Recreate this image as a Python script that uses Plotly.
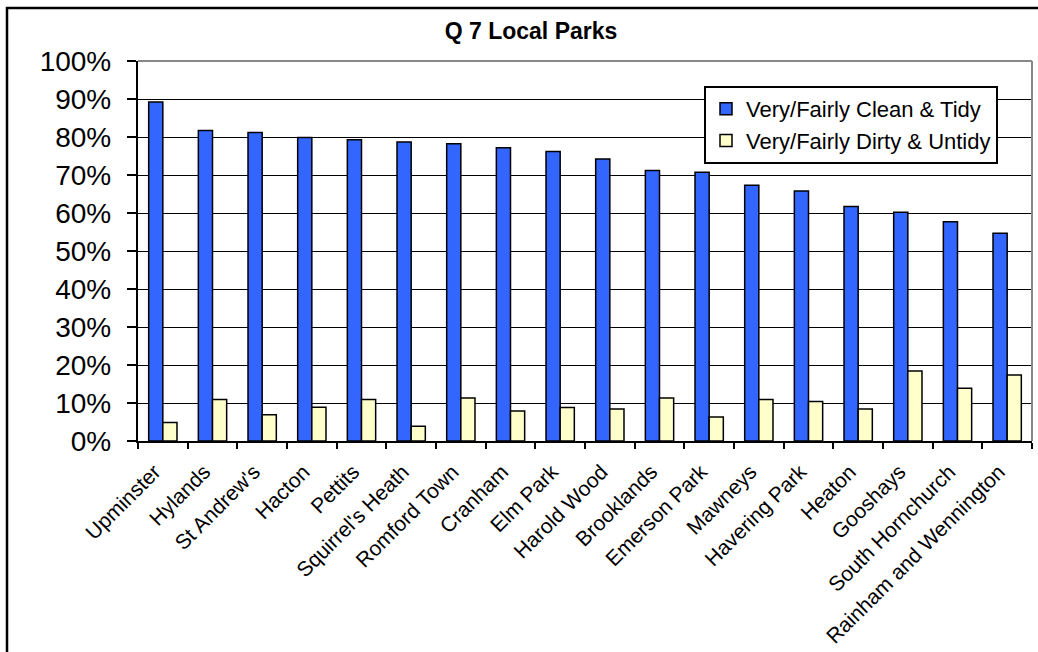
import plotly.graph_objects as go

parks = ["Upminster", "Hylands", "St Andrew's", "Hacton", "Pettits", "Squirrel's Heath",
         "Romford Town", "Cranham", "Elm Park", "Harold Wood", "Brooklands", "Emerson Park",
         "Mawneys", "Havering Park", "Heaton", "Gooshays", "South Hornchurch",
         "Rainham and Wennington"]
clean_tidy = [0.892, 0.817, 0.812, 0.799, 0.793, 0.787, 0.782, 0.772, 0.762, 0.742,
              0.712, 0.707, 0.673, 0.658, 0.617, 0.602, 0.577, 0.547]
dirty_untidy = [0.049, 0.109, 0.069, 0.089, 0.109, 0.039, 0.113, 0.079, 0.088, 0.084,
                0.113, 0.063, 0.109, 0.104, 0.084, 0.184, 0.139, 0.174]
y_ticks = [0, 0.1, 0.2, 0.3, 0.4, 0.5, 0.6, 0.7, 0.8, 0.9, 1.0]
y_tick_labels = ["0%", "10%", "20%", "30%", "40%", "50%", "60%", "70%", "80%", "90%", "100%"]

NB = "\u00a0"
W, H = 1038, 652
L, R, T, B = 138, 6, 61, 211
pw, ph = W - L - R, H - T - B

def px(x):
    return (x - L) / pw

def py(y):
    return (H - B - y) / ph

FONT = "Arial, Liberation Sans, sans-serif"

fig = go.Figure()
fig.add_trace(go.Bar(x=parks, y=clean_tidy, name="Very/Fairly Clean & Tidy",
                     legendgroup="a",
                     marker=dict(color="#3366FF", line=dict(color="black", width=1.5))))
fig.add_trace(go.Bar(x=parks, y=dirty_untidy, name="Very/Fairly Dirty & Untidy",
                     legendgroup="b",
                     marker=dict(color="#FFFFCC", line=dict(color="black", width=1.5))))

fig.update_layout(
    width=W, height=H,
    margin=dict(l=L, r=R, t=T, b=B, pad=0, autoexpand=False),
    paper_bgcolor="white", plot_bgcolor="white",
    barmode="group", bargap=0.43, bargroupgap=0,
    font=dict(family=FONT, color="black"),
    title=dict(text="<b>Q 7 Local Parks</b>", x=531 / W, xanchor="center",
               y=1 - 31 / H, yanchor="middle",
               font=dict(family=FONT, size=23, color="black")),
    legend=dict(x=px(704), y=py(86), xanchor="left", yanchor="top",
                bgcolor="white", bordercolor="black", borderwidth=2,
                font=dict(family=FONT, size=22, color="black"),
                tracegroupgap=0, itemwidth=30),
    xaxis=dict(type="category", tickangle=-45, tickson="boundaries", automargin=False,
               tickmode="array", tickvals=parks, ticktext=[p + NB * 2 for p in parks],
               ticks="outside", ticklen=6, tickcolor="black", tickwidth=2,
               showline=True, linecolor="black", linewidth=2,
               showgrid=False, tickfont=dict(family=FONT, size=21, color="black")),
    yaxis=dict(range=[0, 1], tickmode="array", tickvals=y_ticks, automargin=False,
               ticktext=[t + NB + "\u200a" for t in y_tick_labels],
               ticks="outside", ticklen=9, tickcolor="black", tickwidth=2,
               showline=True, linecolor="black", linewidth=2,
               showgrid=True, gridcolor="black", gridwidth=1.3,
               tickfont=dict(family=FONT, size=28, color="black"), zeroline=False),
    shapes=[
        dict(type="line", xref="paper", yref="paper", x0=0, x1=1, y0=1, y1=1,
             line=dict(color="#888888", width=2), layer="above"),
        dict(type="line", xref="paper", yref="paper", x0=1, x1=1, y0=0, y1=1,
             line=dict(color="#888888", width=2), layer="above"),
        dict(type="rect", xref="paper", yref="paper",
             x0=px(7), x1=px(1045), y0=py(660), y1=py(8),
             line=dict(color="black", width=2.5), layer="above"),
    ],
)

fig.write_html("out.html", config={"displayModeBar": False},
               post_script="document.body.style.margin='0';document.body.style.overflow='hidden';")
